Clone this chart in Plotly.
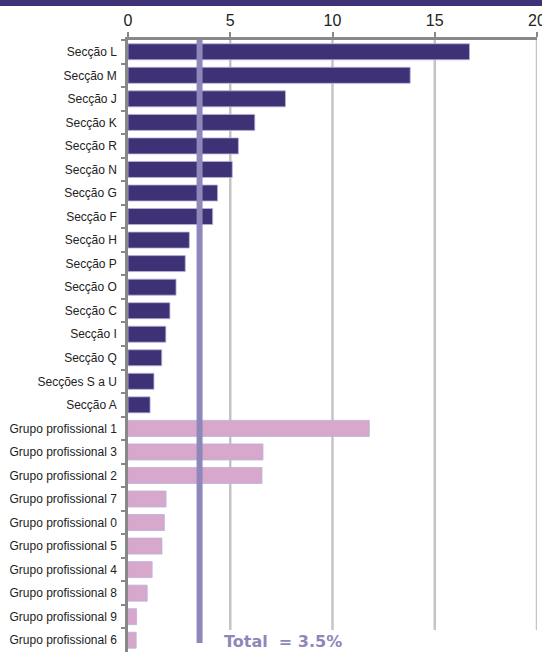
import plotly.graph_objects as go

categories = ["Secção L", "Secção M", "Secção J", "Secção K", "Secção R", "Secção N",
              "Secção G", "Secção F", "Secção H", "Secção P", "Secção O", "Secção C",
              "Secção I", "Secção Q", "Secções S a U", "Secção A",
              "Grupo profissional 1", "Grupo profissional 3", "Grupo profissional 2",
              "Grupo profissional 7", "Grupo profissional 0", "Grupo profissional 5",
              "Grupo profissional 4", "Grupo profissional 8", "Grupo profissional 9",
              "Grupo profissional 6"]
values = [16.7, 13.8, 7.7, 6.2, 5.4, 5.1, 4.38, 4.14, 3.0, 2.8, 2.35, 2.05,
          1.85, 1.65, 1.27, 1.08,
          11.8, 6.6, 6.55, 1.86, 1.78, 1.66, 1.18, 0.94, 0.42, 0.4]
groups = ["sec"] * 16 + ["grp"] * 10
total_value = 3.5
total_label = "Total  = 3.5%"
x_ticks = [0, 5, 10, 15, 20]

group_colors = {"sec": "#3f3176", "grp": "#d8a8cc"}
colors = [group_colors[g] for g in groups]

W, H = 542, 652
ml, mr, mt, mb = 128, 5, 40, 0
plot_h = H - mt - mb
plot_w = W - ml - mr

fig = go.Figure()
fig.add_trace(go.Bar(
    x=values, y=categories, orientation="h",
    marker=dict(color=colors, line=dict(color="#b9b2d8", width=0.8)),
    width=0.68, showlegend=False, hoverinfo="x+y",
))

shapes = []
# gridlines (stop a bit above the bottom)
for t in x_ticks[1:]:
    shapes.append(dict(type="line", xref="x", yref="paper", x0=t, x1=t,
                       y0=1, y1=22 / plot_h, line=dict(color="#c4c4c4", width=2.5),
                       layer="below"))
# total line
shapes.append(dict(type="line", xref="x", yref="paper", x0=total_value, x1=total_value,
                   y0=1, y1=9 / plot_h, line=dict(color="#8e87ba", width=6), layer="above"))
# top banner
shapes.append(dict(type="rect", xref="paper", yref="paper",
                   x0=-ml / plot_w, x1=1 + mr / plot_w,
                   y0=1 + (mt - 6) / plot_h, y1=1 + mt / plot_h + 0.01,
                   fillcolor="#3f3176", line=dict(width=0)))

fig.update_layout(
    width=W, height=H,
    margin=dict(l=ml, r=mr, t=mt, b=mb),
    paper_bgcolor="white", plot_bgcolor="white",
    font=dict(family="Liberation Sans, Arial, sans-serif", color="#222222"),
    shapes=shapes,
    xaxis=dict(side="top", range=[0, 20], tickvals=x_ticks, showgrid=False,
               zeroline=False, showline=True, linecolor="#888888", linewidth=2.5,
               ticks="outside", ticklen=5, tickwidth=2, tickcolor="#888888",
               tickfont=dict(size=16, color="#222222"), ticklabeloverflow="allow",
               automargin=False, fixedrange=True),
    yaxis=dict(autorange="reversed", showgrid=False, showline=True,
               linecolor="#888888", linewidth=2.5, ticks="outside", ticklen=4,
               tickwidth=2, tickcolor="#888888", tickson="boundaries",
               tickfont=dict(size=12, color="#222222"), ticklabelstandoff=6,
               automargin=False, fixedrange=True),
    annotations=[dict(text="<b>" + total_label + "</b>", xref="paper", yref="paper",
                      x=94 / plot_w, y=0, xanchor="left", yanchor="bottom", yshift=-1,
                      showarrow=False,
                      font=dict(family="DejaVu Sans, Verdana, sans-serif", size=16,
                                color="#8e87ba"))],
)

fig.write_html("out.html", config={"displayModeBar": False},
               post_script="document.body.style.margin='0';"
                           "document.body.style.overflow='hidden';")
